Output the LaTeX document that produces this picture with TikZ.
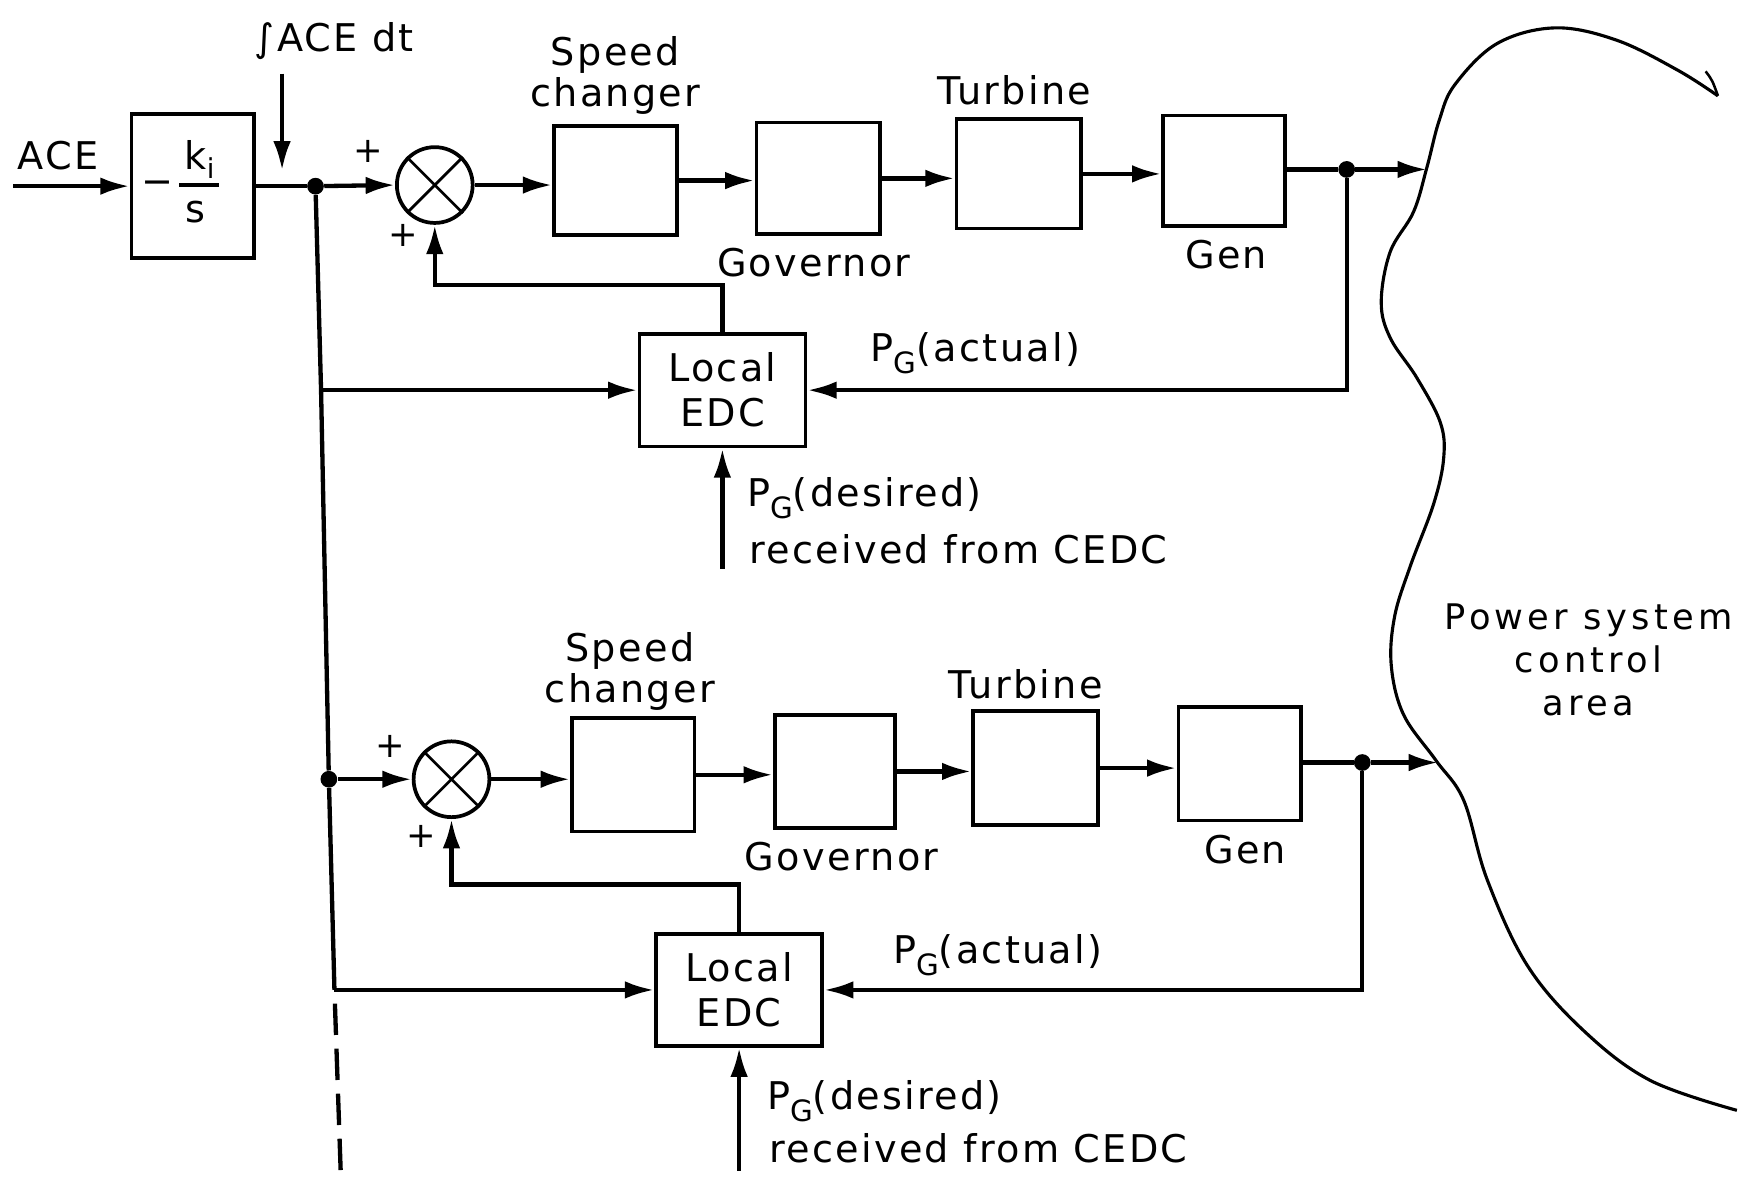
\documentclass[tikz,border=0pt]{standalone}
\usepackage{fontspec}
\setmainfont{DejaVu Sans}[LetterSpace=6]
\usetikzlibrary{arrows.meta}
\newcommand\PGsub{P\raisebox{-0.55ex}{\fontsize{15}{15}\selectfont G}}
\begin{document}
\begin{tikzpicture}[x=0.02cm,y=-0.02cm,
  blk/.style={draw,line width=1.9pt,inner sep=0pt},
  sumn/.style={draw,circle,line width=1.9pt,inner sep=0pt,minimum size=1.36cm},
  ln/.style={line width=2.2pt},
  arr/.style={line width=2.2pt,-{Latex[length=15pt,width=9pt]}},
  dotn/.style={circle,fill,inner sep=0pt,minimum size=0.3cm},
  lbl/.style={font=\fontsize{19.5}{21}\selectfont,inner sep=1pt},
  pls/.style={font=\fontsize{18}{18}\selectfont,inner sep=0pt}]
\useasboundingbox (0,0) rectangle (1568,1060);

% ---------------- top row ----------------
\node[lbl] (ace) at (52,140) {ACE};
\coordinate (a0) at (12,167);
\node[blk,minimum width=2.2cm,minimum height=2.58cm] (K) at (173,167) {};
\node[lbl] (Kminus) at (141,168) {−};
\node[lbl] (Kk) at (179,143) {k\raisebox{-0.45ex}{\fontsize{14}{14}\selectfont i}};
\node[lbl] (Ks) at (175,190) {s};
\draw[line width=1.8pt] (161,166) -- (196,166);

\node[lbl] (int) at (300,37) {∫ACE dt};
\coordinate (i0) at (253,66);
\coordinate (i1) at (253,153);
\draw[arr] (i0) -- (i1);

\node[dotn] (J1) at (283,167) {};
\node[sumn] (S1) at (390,166) {};
\draw[line width=1.4pt] (S1.45) -- (S1.225) (S1.135) -- (S1.315);
\node[pls] (p1a) at (330,136) {+};
\node[pls] (p1b) at (362,211) {+};

\node[blk,minimum width=2.2cm,minimum height=1.96cm] (SC1) at (552,162) {};
\node[blk,minimum width=2.22cm,minimum height=2.0cm] (GV1) at (734,160) {};
\node[blk,minimum width=2.24cm,minimum height=1.96cm] (TB1) at (914,156) {};
\node[blk,minimum width=2.18cm,minimum height=1.98cm] (GN1) at (1098,153) {};
\node[lbl,align=center] (lSC1) at (552,68) {Speed\\changer};
\node[lbl] (lGV1) at (730,236) {Governor};
\node[lbl] (lTB1) at (910,81) {Turbine};
\node[lbl] (lGN1) at (1100,228) {Gen};

\node[dotn] (J1o) at (1208,152) {};
\coordinate (P1) at (1280,152);

\draw[arr] (a0) -- (K.west |- a0);
\draw[ln] (K.east |- J1) -- (J1);
\draw[arr] (J1) -- (S1.west);
\draw[arr] (S1.east) -- (SC1.west |- S1.east);
\draw[arr] (SC1.east) -- (GV1.west |- SC1.east);
\draw[arr] (GV1.east) -- (TB1.west |- GV1.east);
\draw[arr] (TB1.east) -- (GN1.west |- TB1.east);
\draw[ln] (GN1.east |- J1o) -- (J1o);
\draw[arr] (J1o) -- (P1);

\node[blk,minimum width=2.98cm,minimum height=2.02cm,align=center,
      font=\fontsize{19.5}{23}\selectfont] (E1) at (648,350) {Local\\EDC};
\draw[arr] (J1o) |- (E1.east);
\draw[arr] (E1.north) -- ++(0,-42) -| (S1.south);
\node[lbl] (act1) at (875,317) {\PGsub(actual)};
\coordinate (D1) at (648,510);
\draw[arr] (D1) -- (E1.south);
\node[lbl,anchor=west] (des1) at (668,447) {\PGsub(desired)};
\node[lbl,anchor=west] (rec1) at (670,493) {received from CEDC};

% ---------------- bus ----------------
\coordinate (B1) at (288,350);
\node[dotn] (J2) at (295,699) {};
\coordinate (B2) at (300,888);
\coordinate (Bend) at (306,1062);
\draw[ln] (J1) -- (B1) -- (J2) -- (B2);
\draw[arr] (B1) -- (E1.west |- B1);
\draw[ln,dash pattern=on 16pt off 7pt,dash phase=16pt] (B2) -- (Bend);

% ---------------- bottom row ----------------
\node[sumn] (S2) at (405,699) {};
\draw[line width=1.4pt] (S2.45) -- (S2.225) (S2.135) -- (S2.315);
\node[pls] (p2a) at (350,670) {+};
\node[pls] (p2b) at (378,750) {+};

\node[blk,minimum width=2.2cm,minimum height=2.04cm] (SC2) at (568,695) {};
\node[blk,minimum width=2.16cm,minimum height=2.02cm] (GV2) at (749,692) {};
\node[blk,minimum width=2.24cm,minimum height=2.04cm] (TB2) at (929,689) {};
\node[blk,minimum width=2.2cm,minimum height=2.04cm] (GN2) at (1112,685) {};
\node[lbl,align=center] (lSC2) at (565,602) {Speed\\changer};
\node[lbl] (lGV2) at (755,768) {Governor};
\node[lbl] (lTB2) at (920,614) {Turbine};
\node[lbl] (lGN2) at (1117,762) {Gen};

\node[dotn] (J2o) at (1222,684) {};
\coordinate (P2) at (1290,684);

\draw[arr] (J2) -- (S2.west);
\draw[arr] (S2.east) -- (SC2.west |- S2.east);
\draw[arr] (SC2.east) -- (GV2.west |- SC2.east);
\draw[arr] (GV2.east) -- (TB2.west |- GV2.east);
\draw[arr] (TB2.east) -- (GN2.west |- TB2.east);
\draw[ln] (GN2.east |- J2o) -- (J2o);
\draw[arr] (J2o) -- (P2);

\node[blk,minimum width=2.98cm,minimum height=2.0cm,align=center,
      font=\fontsize{19.5}{23}\selectfont] (E2) at (663,888) {Local\\EDC};
\draw[arr] (J2o) |- (E2.east);
\draw[arr] (E2.north) -- ++(0,-43) -| (S2.south);
\draw[arr] (B2) -- (E2.west |- B2);
\node[lbl] (act2) at (895,857) {\PGsub(actual)};
\coordinate (D2) at (663,1050);
\draw[arr] (D2) -- (E2.south);
\node[lbl,anchor=west] (des2) at (686,988) {\PGsub(desired)};
\node[lbl,anchor=west] (rec2) at (688,1030) {received from CEDC};

% ---------------- power system area ----------------
\draw[line width=1.6pt] plot[smooth,tension=0.6] coordinates {
 (1541,86) (1505,63) (1450,36) (1395,25) (1343,39) (1305,76) (1291,108)
 (1280,150) (1268,190) (1247,226) (1239,271) (1247,303) (1271,339)
 (1292,379) (1295,411) (1286,452) (1265,508) (1251,553) (1248,597)
 (1259,641) (1288,682) (1313,718) (1334,789) (1370,866) (1420,924)
 (1480,969) (1558,996)};
\draw[line width=1.3pt] (1530,64) .. controls (1536,72) .. (1541,86);
\node[align=center,font=\fontsize{18}{22}\selectfont\addfontfeatures{LetterSpace=12}]
  (psa) at (1425,592) {Power system\\control\\area};
\end{tikzpicture}
\end{document}
